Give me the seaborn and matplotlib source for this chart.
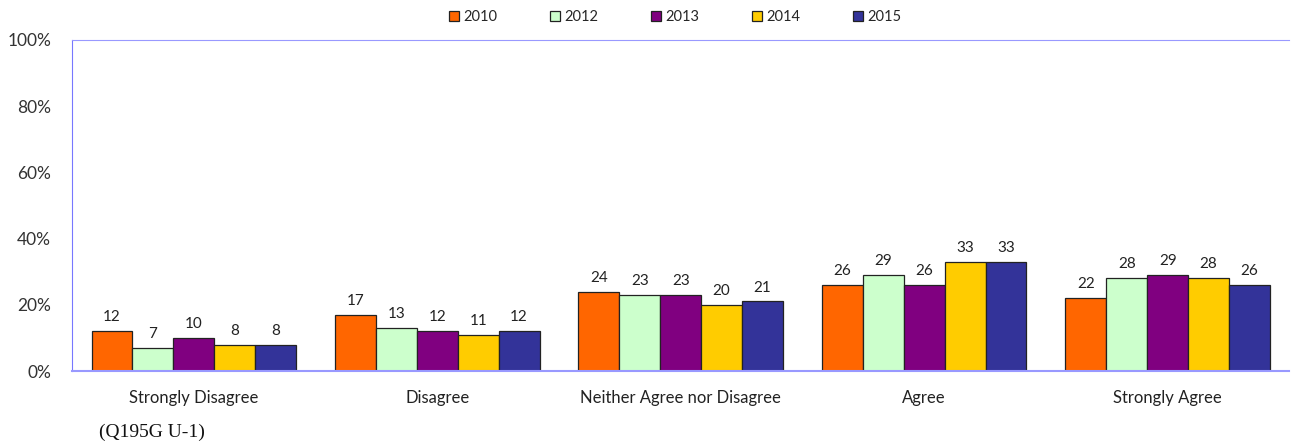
import pandas as pd
import matplotlib.pyplot as plt
import seaborn as sns

# Survey responses (percent) by year
categories = ['Strongly Disagree', 'Disagree', 'Neither Agree nor Disagree', 'Agree', 'Strongly Agree']
years = ['2010', '2012', '2013', '2014', '2015']
v2010 = [12, 17, 24, 26, 22]
v2012 = [7, 13, 23, 29, 28]
v2013 = [10, 12, 23, 26, 29]
v2014 = [8, 11, 20, 33, 28]
v2015 = [8, 12, 21, 33, 26]
colors = ['#FF6600', '#CCFFCC', '#800080', '#FFCC00', '#333399']

rows = []
for year, vals in zip(years, [v2010, v2012, v2013, v2014, v2015]):
    for cat, v in zip(categories, vals):
        rows.append({'category': cat, 'year': year, 'value': v})
df = pd.DataFrame(rows)

sns.set_style('white')
plt.rcParams['font.family'] = ['Lato', 'DejaVu Sans']

fig = plt.figure(figsize=(12.91, 4.42), dpi=100)
ax = fig.add_axes([0.0558, 0.1606, 0.943, 0.749])

sns.barplot(data=df, x='category', y='value', hue='year', palette=colors,
            width=0.84, edgecolor='#222222', linewidth=0.9, saturation=1,
            ax=ax, legend=True)

for cont in ax.containers:
    ax.bar_label(cont, padding=5, fontsize=11, color='#222222')

ax.set_ylim(0, 100)
ax.set_yticks([0, 20, 40, 60, 80, 100])
ax.set_yticklabels([f'{t}%' for t in range(0, 101, 20)], fontsize=12.5, color='#333333')
ax.set_xlabel('')
ax.set_ylabel('')
ax.tick_params(axis='x', labelsize=12, colors='#222222', pad=14, length=0)
ax.tick_params(axis='y', direction='out', length=5, color='#7777ff', pad=10)
ax.set_xlim(-0.5, 4.5)

ax.spines['right'].set_visible(False)
ax.spines['left'].set_color('#7777ff')
ax.spines['bottom'].set_color('#9999ff')
ax.spines['top'].set_color('#9999ff')
ax.spines['bottom'].set_linewidth(1.5)

handles, labels = ax.get_legend_handles_labels()
ax.get_legend().remove()
fig.legend(handles, labels, loc='center', bbox_to_anchor=(0.523, 0.962), ncol=5,
           frameon=False, fontsize=10.5, handlelength=0.7, handleheight=0.7,
           handletextpad=0.3, columnspacing=3.6)

fig.text(0.077, 0.012, '(Q195G U-1)', family='Liberation Serif', fontsize=14, color='#111111')

fig.savefig('out.png', dpi=100)
